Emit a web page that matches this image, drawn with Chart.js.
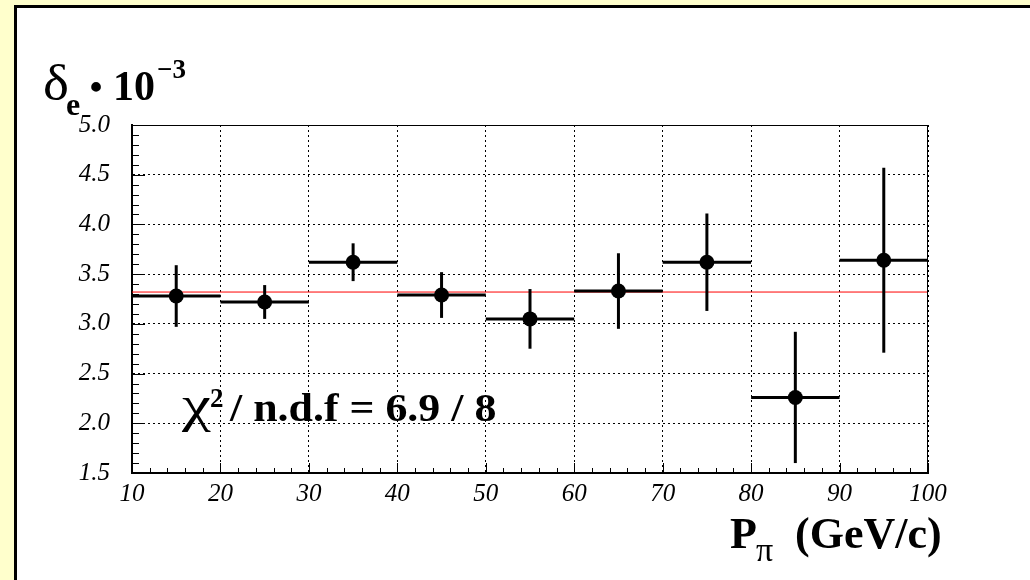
<!DOCTYPE html>
<html>
<head>
<meta charset="utf-8">
<script src="https://cdn.jsdelivr.net/npm/chart.js@4.4.0/dist/chart.umd.min.js"></script>
<style>
  html, body { margin: 0; padding: 0; background: #ffffcc; }
  #pad { position: absolute; left: 14px; top: 5px; width: 1016px; height: 575px; background: #fff;
         border-left: 3px solid #000; border-top: 3px solid #000; box-sizing: border-box; }
  #c { position: absolute; left: 0; top: 0; }
</style>
</head>
<body>
<div id="pad"></div>
<canvas id="c" width="1030" height="580"></canvas>
<script>
    'use strict';

    // bins in P_pi (GeV/c): centre and half width
    var pMid = [15, 25, 35, 45, 55, 65, 75, 85, 95];
    var pHalf = [5, 5, 5, 5, 5, 5, 5, 5, 5];
    // delta_e * 1e-3 and its error
    var delta = [3.28, 3.22, 3.62, 3.29, 3.05, 3.33, 3.62, 2.26, 3.64];
    var deltaErr = [0.31, 0.17, 0.19, 0.23, 0.30, 0.38, 0.49, 0.66, 0.93];
    // constant fit
    var fitX = [10, 100];
    var fitY = [3.32, 3.32];
    // axis ticks
    var xTicks = [10, 20, 30, 40, 50, 60, 70, 80, 90, 100];
    var yTicks = [1.5, 2.0, 2.5, 3.0, 3.5, 4.0, 4.5, 5.0];

    var SERIF = '"Liberation Serif", "DejaVu Serif", serif';

    function line(ctx, x1, y1, x2, y2) {
        ctx.beginPath();
        ctx.moveTo(x1, y1);
        ctx.lineTo(x2, y2);
        ctx.stroke();
    }

    // text stretched horizontally (ROOT greek glyphs are wider than Liberation's)
    function wideText(ctx, txt, x, y, sx) {
        ctx.save();
        ctx.translate(x, y);
        ctx.scale(sx, 1);
        ctx.fillText(txt, 0, 0);
        ctx.restore();
    }

    var rootStyle = {
        id: 'rootStyle',
        beforeDatasetDraw: function(chart, args) {
            if (args.index !== 1) return;
            var ctx = chart.ctx, xs = chart.scales.x, ys = chart.scales.y;
            ctx.save();
            ctx.strokeStyle = '#000';
            ctx.lineWidth = 3;
            for (var i = 0; i < pMid.length; i++) {
                var cx = xs.getPixelForValue(pMid[i]);
                var cy = ys.getPixelForValue(delta[i]);
                line(ctx, xs.getPixelForValue(pMid[i] - pHalf[i]), cy, xs.getPixelForValue(pMid[i] + pHalf[i]), cy);
                line(ctx, cx, ys.getPixelForValue(delta[i] + deltaErr[i]), cx, ys.getPixelForValue(delta[i] - deltaErr[i]));
            }
            ctx.restore();
        },
        afterDraw: function(chart) {
            var ctx = chart.ctx, a = chart.chartArea;
            var xs = chart.scales.x, ys = chart.scales.y;
            ctx.save();
            ctx.strokeStyle = '#000';
            ctx.lineWidth = 1;
            // frame top / right
            line(ctx, a.left, a.top + 0.5, a.right, a.top + 0.5);
            line(ctx, a.right - 0.5, a.top, a.right - 0.5, a.bottom);
            // inner ticks, 5 divisions between majors
            var i, k, v, p;
            for (i = 0; i < xTicks.length; i++) {
                p = Math.round(xs.getPixelForValue(xTicks[i])) + 0.5;
                line(ctx, p, a.bottom, p, a.bottom - 10);
                if (i < xTicks.length - 1) {
                    for (k = 1; k < 5; k++) {
                        v = xTicks[i] + k * (xTicks[i + 1] - xTicks[i]) / 5;
                        p = Math.round(xs.getPixelForValue(v)) + 0.5;
                        line(ctx, p, a.bottom, p, a.bottom - 5);
                    }
                }
            }
            for (i = 0; i < yTicks.length; i++) {
                p = Math.round(ys.getPixelForValue(yTicks[i])) + 0.5;
                line(ctx, a.left, p, a.left + 13, p);
                if (i < yTicks.length - 1) {
                    for (k = 1; k < 5; k++) {
                        v = yTicks[i] + k * (yTicks[i + 1] - yTicks[i]) / 5;
                        p = Math.round(ys.getPixelForValue(v)) + 0.5;
                        line(ctx, a.left, p, a.left + 7, p);
                    }
                }
            }

            // y title
            ctx.fillStyle = '#000';
            ctx.textBaseline = 'alphabetic';
            ctx.textAlign = 'left';
            ctx.font = '50px ' + SERIF;
            wideText(ctx, '\u03b4', 43, 100, 1.1);
            ctx.font = 'bold 32px ' + SERIF;
            ctx.fillText('e', 66, 115);
            ctx.font = 'bold 36px ' + SERIF;
            ctx.textAlign = 'center';
            ctx.fillText('\u2022', 96, 99);
            ctx.textAlign = 'left';
            ctx.font = 'bold 42px ' + SERIF;
            ctx.fillText('10', 113, 100);
            ctx.font = 'bold 27px ' + SERIF;
            ctx.fillText('\u22123', 157, 78);

            // x title
            ctx.font = 'bold 44px ' + SERIF;
            ctx.fillText('P', 730, 548);
            ctx.font = '34px ' + SERIF;
            ctx.fillText('\u03c0', 756, 561);
            ctx.font = 'bold 44px ' + SERIF;
            ctx.fillText('(GeV/c)', 795, 548);

            // fit quality
            ctx.font = '50px ' + SERIF;
            wideText(ctx, '\u03c7', 182, 421, 1.3);
            ctx.font = 'bold 27px ' + SERIF;
            ctx.fillText('2', 210, 407);
            ctx.font = 'bold 41px ' + SERIF;
            wideText(ctx, '/ n.d.f = 6.9 / 8', 230, 421, 1.07);
            ctx.restore();
        }
    };

    var tickFont = { family: SERIF, style: 'italic', size: 25 };

    var chart = new Chart(document.getElementById('c'), {
        type: 'scatter',
        data: {
            datasets: [
                {
                    type: 'line',
                    data: fitX.map(function(x, i) { return { x: x, y: fitY[i] }; }),
                    borderColor: '#ff0000',
                    borderWidth: 1,
                    pointRadius: 0,
                    fill: false,
                    order: 2
                },
                {
                    data: pMid.map(function(x, i) { return { x: x, y: delta[i] }; }),
                    pointRadius: 7.5,
                    pointBackgroundColor: '#000',
                    pointBorderWidth: 0,
                    order: 1
                }
            ]
        },
        options: {
            responsive: false,
            animation: false,
            devicePixelRatio: 1,
            layout: { padding: { left: 0, top: 125, right: 102, bottom: 0 } },
            plugins: { legend: { display: false }, tooltip: { enabled: false } },
            scales: {
                x: {
                    type: 'linear',
                    min: 10,
                    max: 100,
                    afterBuildTicks: function(s) { s.ticks = xTicks.map(function(v) { return { value: v }; }); },
                    afterFit: function(s) { s.height = 107; },
                    ticks: { font: tickFont, color: '#000', padding: 6, maxRotation: 0,
                             callback: function(v) { return String(v); } },
                    grid: { color: '#000', lineWidth: 1, drawTicks: false },
                    border: { color: '#000', width: 2, dash: [2, 3] }
                },
                y: {
                    min: 1.5,
                    max: 5.0,
                    afterBuildTicks: function(s) { s.ticks = yTicks.map(function(v) { return { value: v }; }); },
                    afterFit: function(s) { s.width = 132; },
                    ticks: { font: tickFont, color: '#000', padding: 22,
                             callback: function(v) { return Number(v).toFixed(1); } },
                    grid: { color: '#000', lineWidth: 1, drawTicks: false },
                    border: { color: '#000', width: 2, dash: [2, 3] }
                }
            }
        },
        plugins: [rootStyle]
    });
</script>
</body>
</html>
